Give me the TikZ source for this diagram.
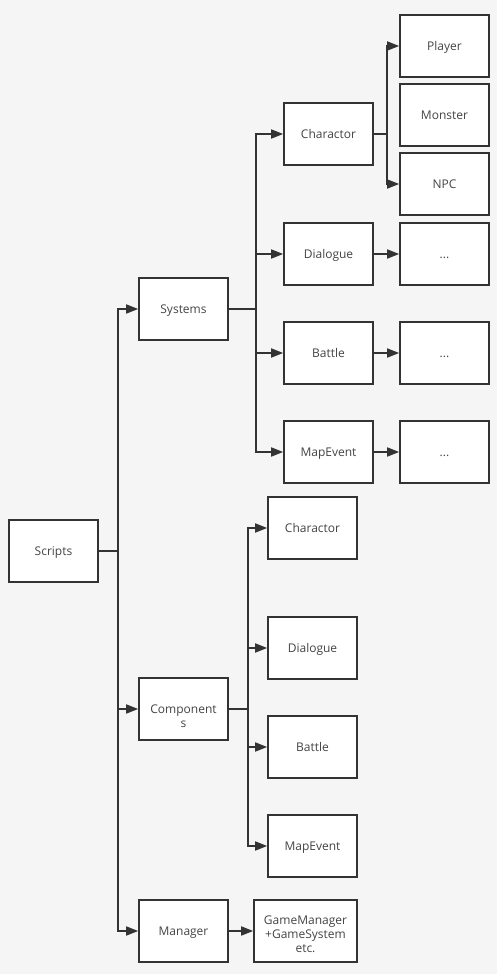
\documentclass[tikz,border=0pt]{standalone}
\usepackage{fontspec}
\setmainfont{Open Sans}
\usetikzlibrary{arrows.meta}
\definecolor{bg}{HTML}{F5F5F5}
\definecolor{ln}{HTML}{333333}
\definecolor{tx}{HTML}{444444}
\begin{document}
\begin{tikzpicture}[x=1pt,y=-1pt,
  box/.style={draw=ln,line width=1.6pt,fill=white,minimum width=89pt,minimum height=62pt,inner sep=2pt,text=tx,font=\fontsize{12}{14}\selectfont,align=center,text height=9.3pt,text depth=0.7pt},
  mbox/.style={draw=ln,line width=1.6pt,fill=white,minimum width=89pt,minimum height=62pt,inner sep=0pt},
  mtxt/.style={inner sep=0pt,text=tx,font=\fontsize{12}{14}\selectfont,align=center},
  conn/.style={draw=ln,line width=1.6pt,-{Triangle[length=12pt,width=9pt]}},
  plain/.style={draw=ln,line width=1.6pt}]
\fill[bg] (0,0) rectangle (497,974);
\useasboundingbox (0,0) rectangle (497,974);
% level 0
\node[box] (scripts) at (53.5,551) {Scripts};
% level 1
\node[box] (systems) at (183.5,309) {Systems};
\node[mbox] (components) at (183.5,709) {};
\node[mtxt] (componentsT) at ([yshift=-7.5pt]components.center) {Component\\s};
\node[box] (manager) at (183.5,931) {Manager};
% systems children
\node[box] (schar) at (328.5,134) {Charactor};
\node[box] (sdia) at (328.5,254) {Dialogue};
\node[box] (sbat) at (328.5,353) {Battle};
\node[box] (smap) at (328.5,452) {MapEvent};
% charactor children
\node[box] (player) at (444.5,46) {Player};
\node[box] (monster) at (444.5,115) {Monster};
\node[box] (npc) at (444.5,184) {NPC};
% dots
\node[box] (d1) at (444.5,254) {...};
\node[box] (d2) at (444.5,353) {...};
\node[box] (d3) at (444.5,452) {...};
% components children
\node[box] (cchar) at (312.5,528) {Charactor};
\node[box] (cdia) at (312.5,648) {Dialogue};
\node[box] (cbat) at (312.5,747) {Battle};
\node[box] (cmap) at (312.5,846) {MapEvent};
% manager child
\node[mbox,minimum width=103pt] (gm) at (305.5,931) {};
\node[mtxt] (gmT) at ([yshift=-3.5pt]gm.center) {GameManager\\+GameSystem\\etc.};
% junctions
\coordinate (j0) at (118,551);
\coordinate (j1) at (256,309);
\coordinate (j2) at (387,134);
\coordinate (j3) at (248,709);
% connectors
\draw[plain] (scripts.east) -- (j0);
\draw[conn] (j0) |- (systems.west);
\draw[conn] (j0) |- (components.west);
\draw[conn] (j0) |- (manager.west);
\draw[plain] (systems.east) -- (j1);
\draw[conn] (j1) |- (schar.west);
\draw[conn] (j1) |- (sdia.west);
\draw[conn] (j1) |- (sbat.west);
\draw[conn] (j1) |- (smap.west);
\draw[plain] (schar.east) -- (j2);
\draw[conn] (j2) |- (player.west);
\draw[conn] (j2) |- (npc.west);
\draw[conn] (sdia) -- (d1);
\draw[conn] (sbat) -- (d2);
\draw[conn] (smap) -- (d3);
\draw[plain] (components.east) -- (j3);
\draw[conn] (j3) |- (cchar.west);
\draw[conn] (j3) |- (cdia.west);
\draw[conn] (j3) |- (cbat.west);
\draw[conn] (j3) |- (cmap.west);
\draw[conn] (manager) -- (gm);
\end{tikzpicture}
\end{document}
